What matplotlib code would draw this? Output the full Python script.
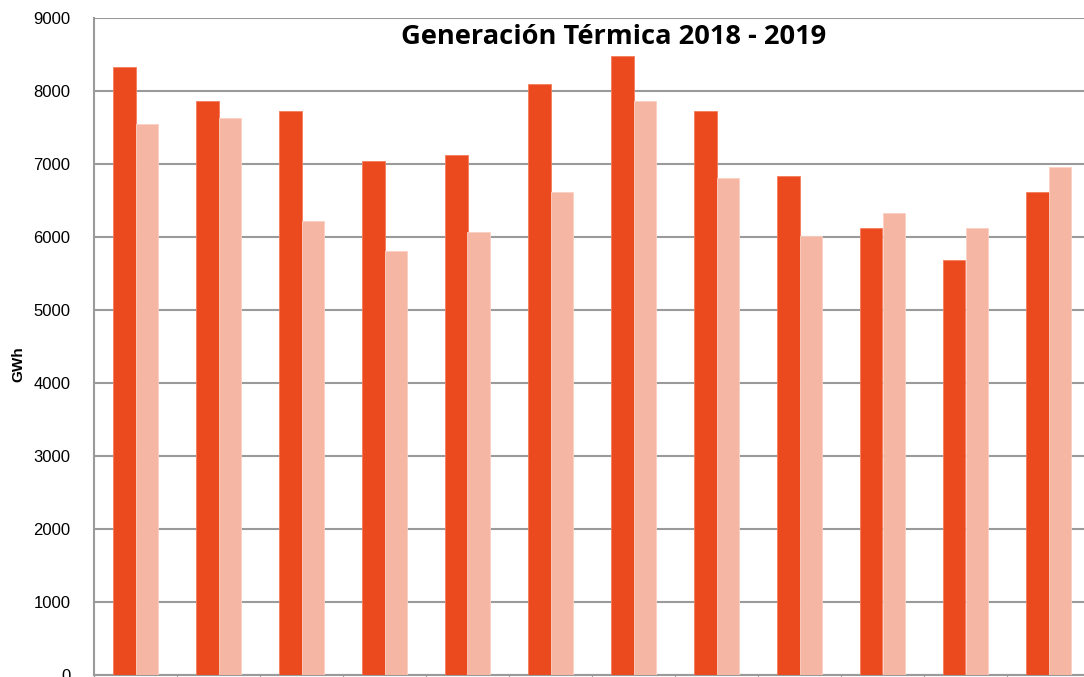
import matplotlib
matplotlib.use("Agg")
import matplotlib.pyplot as plt
import numpy as np

# monthly thermal generation, GWh
months = ["Ene", "Feb", "Mar", "Abr", "May", "Jun",
          "Jul", "Ago", "Sep", "Oct", "Nov", "Dic"]
gen_2018 = [8330, 7865, 7725, 7045, 7130, 8095, 8475, 7725, 6830, 6130, 5690, 6610]
gen_2019 = [7545, 7635, 6220, 5815, 6065, 6615, 7865, 6815, 6020, 6335, 6125, 6955]

c2018 = "#EA4A1D"
c2019 = "#F6B6A4"

fig = plt.figure(figsize=(10.84, 6.77), dpi=100)
ax = fig.add_axes([94 / 1084, 2 / 677, 996 / 1084, 657 / 677])

x = np.arange(len(months))
w = 0.277
ax.bar(x - w / 2, gen_2018, width=w, color=c2018, edgecolor="#F47C5C", linewidth=0.6, zorder=3)
ax.bar(x + w / 2, gen_2019, width=w, color=c2019, edgecolor="#FAD0C2", linewidth=0.6, zorder=3)

ax.set_xlim(-0.5, len(months) - 0.5)
ax.set_ylim(0, 9000)
ax.set_yticks(np.arange(0, 9001, 1000))
ax.yaxis.grid(True, color="#9a9a9a", linewidth=1.5, zorder=0)
ax.set_axisbelow(True)

# category boundary ticks only, no labels
ax.set_xticks(np.arange(-0.5, len(months), 1.0))
ax.set_xticklabels([])
ax.tick_params(axis="x", length=5, color="#9a9a9a")
ax.tick_params(axis="y", length=0, pad=17, labelsize=12)
for lab in ax.get_yticklabels():
    lab.set_family("Liberation Sans")

for s in ["left", "bottom"]:
    ax.spines[s].set_color("#9a9a9a")
    ax.spines[s].set_linewidth(1.5)
for s in ["top", "right"]:
    ax.spines[s].set_visible(False)

fig.text(614 / 1084, 1 - 37 / 677, "Generación Térmica 2018 - 2019",
         ha="center", va="center", fontsize=19.6, fontweight="bold",
         family="Open Sans")
fig.text(18 / 1084, 1 - 364 / 677, "GWh", rotation=90, ha="center", va="center",
         fontsize=11, fontweight="bold", family="Liberation Sans")

fig.savefig("out.png", dpi=100)
